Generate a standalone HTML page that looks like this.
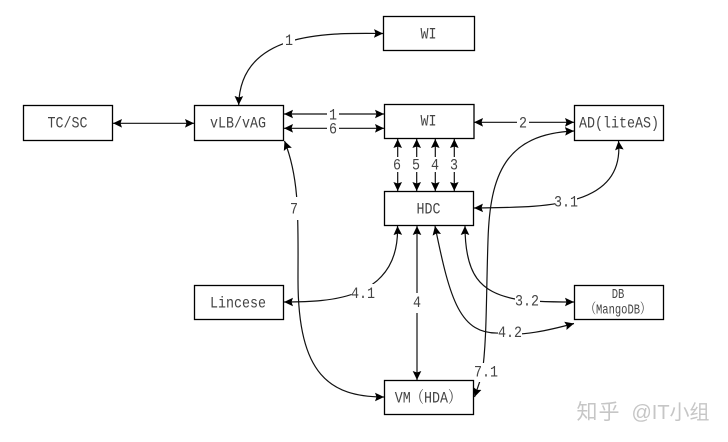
<!DOCTYPE html>
<html>
<head>
<meta charset="utf-8">
<style>
html,body{margin:0;padding:0;background:#fff;width:728px;height:442px;overflow:hidden}
svg{display:block}
text{font-family:"Liberation Mono","Noto Serif CJK SC",monospace;font-size:16px;fill:#444;text-anchor:middle}
.b{fill:#fff;stroke:#000;stroke-width:1.3}
.c{fill:none;stroke:#111;stroke-width:1.2;marker-start:url(#h);marker-end:url(#h)}
.g{fill:#fff;stroke:none}
</style>
</head>
<body>
<svg width="728" height="442" viewBox="0 0 728 442" xmlns="http://www.w3.org/2000/svg">
<defs>
<marker id="h" markerUnits="userSpaceOnUse" markerWidth="10" markerHeight="10" refX="9" refY="4.5" orient="auto-start-reverse">
<path d="M0 0.2L9 4.5L0 8.8L1.5 4.5Z" fill="#000"/>
</marker>
</defs>

<!-- connectors -->
<path class="c" d="M383 33.5C330 33 240 30 238.7 105"/>
<path class="c" d="M113 123.3H194"/>
<path class="c" d="M284 114H384"/>
<path class="c" d="M284 128.3H384"/>
<path class="c" d="M474 122.3H574"/>
<path class="c" d="M397.7 139V191"/>
<path class="c" d="M416.7 139V191"/>
<path class="c" d="M435.3 139V191"/>
<path class="c" d="M454.3 139V191"/>
<path class="c" d="M474 208C540 207 625 210 618.5 141"/>
<path class="c" d="M574 131C505 134 490 175 488 240C486 300 487 340 482 375L474.5 397"/>
<path class="c" d="M384 397C330 397 298 375 298 280C298 220 300 180 284.5 141"/>
<path class="c" d="M284 302C330 302 400 300 397.5 226"/>
<path class="c" d="M417 226V380"/>
<path class="c" d="M435 226C450 300 460 335 500 333C520 337 550 330 574 323.5"/>
<path class="c" d="M465 226C465 275 480 292 515 299C525 301 540 302 574 302"/>

<!-- label gaps -->
<rect class="g" x="283" y="30" width="12" height="18"/>
<rect class="g" x="327" y="107" width="12" height="13.5"/>
<rect class="g" x="327" y="121.5" width="12" height="13.5"/>
<rect class="g" x="517" y="115" width="12" height="15"/>
<rect class="g" x="391" y="157" width="12" height="15"/>
<rect class="g" x="410" y="157" width="12" height="15"/>
<rect class="g" x="429" y="157" width="12" height="15"/>
<rect class="g" x="448" y="157" width="12" height="15"/>
<rect class="g" x="555" y="193" width="22" height="17"/>
<rect class="g" x="288" y="197" width="14" height="23"/>
<rect class="g" x="351.5" y="284" width="25" height="18"/>
<rect class="g" x="411" y="293" width="12" height="20"/>
<rect class="g" x="515" y="292" width="25" height="16"/>
<rect class="g" x="498" y="324" width="24" height="16"/>
<rect class="g" x="474" y="363" width="24" height="19"/>

<!-- boxes -->
<rect class="b" x="383.5" y="16.5" width="91" height="34"/>
<rect class="b" x="384.5" y="104.5" width="89.5" height="34"/>
<rect class="b" x="194.5" y="105.5" width="89" height="35"/>
<rect class="b" x="23.5" y="105.5" width="89" height="35"/>
<rect class="b" x="574.5" y="105.5" width="89" height="35"/>
<rect class="b" x="384.5" y="191.5" width="89" height="34"/>
<rect class="b" x="194.5" y="285.5" width="89" height="34"/>
<rect class="b" x="574.5" y="285.5" width="89" height="34"/>
<rect class="b" x="384.5" y="380.5" width="89" height="34"/>

<!-- box labels -->
<text transform="translate(428.5 38.5) scale(.833 1)">WI</text>
<text transform="translate(428.5 125.5) scale(.833 1)">WI</text>
<text transform="translate(238 127.5) scale(.833 1)">vLB/vAG</text>
<text transform="translate(67.5 127.5) scale(.833 1)">TC/SC</text>
<text transform="translate(619 127.5) scale(.833 1)">AD(liteAS)</text>
<text transform="translate(428.5 213.5) scale(.833 1)">HDC</text>
<text transform="translate(238 307.5) scale(.833 1)">Lincese</text>
<text transform="translate(428 402.5) scale(.833 1)">VM（HDA）</text>
<text transform="translate(618 298) scale(.75 1)" style="font-size:14px">DB</text>
<text transform="translate(618 313.5) scale(.75 1)" style="font-size:14px">（MangoDB）</text>

<!-- connector labels -->
<text transform="translate(289 45) scale(.833 1)">1</text>
<text transform="translate(333 119.5) scale(.833 1)">1</text>
<text transform="translate(333 133.5) scale(.833 1)">6</text>
<text transform="translate(523 127.5) scale(.833 1)">2</text>
<text transform="translate(397 169.5) scale(.833 1)">6</text>
<text transform="translate(416 169.5) scale(.833 1)">5</text>
<text transform="translate(435 169.5) scale(.833 1)">4</text>
<text transform="translate(454 169.5) scale(.833 1)">3</text>
<text transform="translate(566 206.5) scale(.833 1)">3.1</text>
<text transform="translate(294 213.5) scale(.833 1)">7</text>
<text transform="translate(363 298) scale(.833 1)">4.1</text>
<text transform="translate(417 307) scale(.833 1)">4</text>
<text transform="translate(527 305.5) scale(.833 1)">3.2</text>
<text transform="translate(510 337) scale(.833 1)">4.2</text>
<text transform="translate(486 376.5) scale(.833 1)">7.1</text>

<!-- watermark -->
<text x="598.5" y="419" style="font-family:'Noto Sans CJK SC',sans-serif;font-size:21px;fill:#c6c6c6;letter-spacing:1px">知乎</text>
<text x="670.5" y="419" style="font-family:'Liberation Sans','Noto Sans CJK SC',sans-serif;font-size:20px;fill:#c6c6c6">@IT小组</text>
</svg>
</body>
</html>
